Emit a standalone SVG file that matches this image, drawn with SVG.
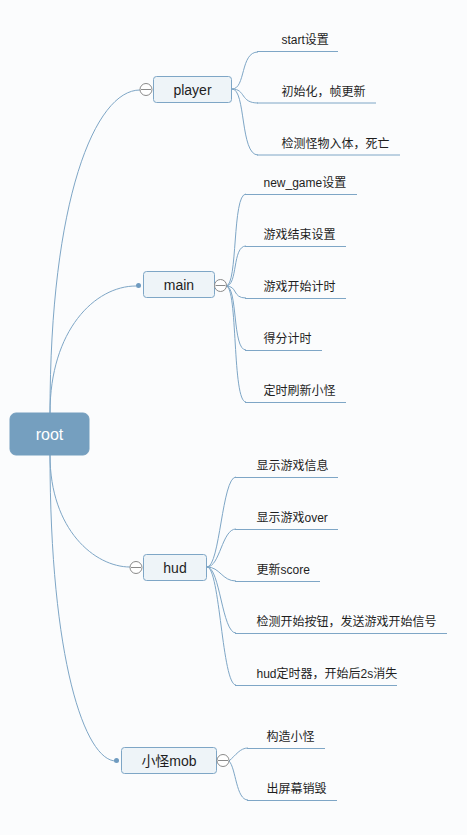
<svg xmlns="http://www.w3.org/2000/svg" width="467" height="835" viewBox="0 0 467 835">
<style>
.bg{fill:#fbfcfd}
.node rect{fill:#eef4f8;stroke:#7ea6c6;stroke-width:1}
.node text{font-family:"Liberation Sans","Noto Sans CJK SC",sans-serif;font-size:14px;fill:#1e1e1e;text-anchor:middle}
.leaf text{font-family:"Liberation Sans","Noto Sans CJK SC",sans-serif;font-size:12px;fill:#1e1e1e}
.leaf line{stroke:#7ea6c6;stroke-width:1}
.conn path{fill:none;stroke:#7ea6c6;stroke-width:1}
.col circle{fill:#ffffff;stroke:#8a8a8a;stroke-width:1}
.col line{stroke:#8a8a8a;stroke-width:1}
.dot{fill:#6f9bc0}
</style>
<rect class="bg" x="0" y="0" width="467" height="835"/>
<g id="connectors" class="conn">
<path d="M50,413 C50,200 95,90 140,90"/>
<path d="M50,413 C50,330 95,286 136,286"/>
<path d="M50,455 C50,530 95,567 130,567"/>
<path d="M50,455 C50,660 85,761 116,761"/>
<path d="M232,89 C246,89 240,52 258,52"/>
<path d="M232,89 C246,89 240,103 258,103"/>
<path d="M232,89 C246,89 240,155 258,155"/>
<path d="M226,286 C238,286 232,194 246,194"/>
<path d="M226,286 C238,286 232,246 246,246"/>
<path d="M226,286 C238,286 232,298 246,298"/>
<path d="M226,286 C238,286 232,350 246,350"/>
<path d="M226,286 C238,286 232,402 246,402"/>
<path d="M207,567 C220,567 222,477 236,477"/>
<path d="M207,567 C220,567 222,529 236,529"/>
<path d="M207,567 C220,567 222,581 236,581"/>
<path d="M207,567 C220,567 222,633 236,633"/>
<path d="M207,567 C220,567 222,685 236,685"/>
<path d="M229,761 C236,755 240,748 248,748"/>
<path d="M229,761 C236,768 236,800 248,800"/>
</g>
<g id="root" class="node">
<rect x="10" y="413" width="79" height="42" rx="6" ry="6" style="fill:#759fbf;stroke:#759fbf"/>
<text x="49.5" y="440" style="fill:#ffffff;font-size:16px">root</text>
</g>
<g id="player" class="node">
<rect x="153.5" y="76.5" width="78" height="26" rx="3" ry="3"/>
<text x="192.5" y="94.5">player</text>
<g class="col"><circle cx="146" cy="89.5" r="6"/><line x1="141" y1="89.5" x2="151" y2="89.5"/></g>
</g>
<g id="main" class="node">
<rect x="143.5" y="271.5" width="71" height="26" rx="3" ry="3"/>
<text x="179" y="290">main</text>
<circle class="dot" cx="138.5" cy="285.5" r="2.5"/>
<g class="col"><circle cx="220.5" cy="285.5" r="6"/><line x1="215.5" y1="285.5" x2="225.5" y2="285.5"/></g>
</g>
<g id="hud" class="node">
<rect x="143.5" y="554.5" width="63" height="26" rx="3" ry="3"/>
<text x="175" y="573">hud</text>
<g class="col"><circle cx="136" cy="567.5" r="6"/><line x1="131" y1="567.5" x2="141" y2="567.5"/></g>
</g>
<g id="mob" class="node">
<rect x="121.5" y="747.5" width="95" height="26" rx="3" ry="3"/>
<text x="169" y="766">小怪mob</text>
<circle class="dot" cx="116.5" cy="760.5" r="2.5"/>
<g class="col"><circle cx="223" cy="760.5" r="6"/><line x1="218" y1="760.5" x2="228" y2="760.5"/></g>
</g>
<g id="p1" class="leaf"><text x="281.5" y="44">start设置</text><line x1="257" y1="51.5" x2="338" y2="51.5"/></g>
<g id="p2" class="leaf"><text x="281.5" y="96">初始化，帧更新</text><line x1="257" y1="103" x2="376" y2="103"/></g>
<g id="p3" class="leaf"><text x="281.5" y="148">检测怪物入体，死亡</text><line x1="257" y1="155" x2="400" y2="155"/></g>
<g id="m1" class="leaf"><text x="263.5" y="187">new_game设置</text><line x1="245" y1="194.5" x2="357" y2="194.5"/></g>
<g id="m2" class="leaf"><text x="263.5" y="239">游戏结束设置</text><line x1="245" y1="246.5" x2="346" y2="246.5"/></g>
<g id="m3" class="leaf"><text x="263.5" y="291">游戏开始计时</text><line x1="245" y1="298.5" x2="346" y2="298.5"/></g>
<g id="m4" class="leaf"><text x="263.5" y="343">得分计时</text><line x1="245" y1="350.5" x2="322" y2="350.5"/></g>
<g id="m5" class="leaf"><text x="263.5" y="395">定时刷新小怪</text><line x1="245" y1="402.5" x2="346" y2="402.5"/></g>
<g id="h1" class="leaf"><text x="256.5" y="470">显示游戏信息</text><line x1="235" y1="477.5" x2="338" y2="477.5"/></g>
<g id="h2" class="leaf"><text x="256.5" y="522">显示游戏over</text><line x1="235" y1="529.5" x2="338" y2="529.5"/></g>
<g id="h3" class="leaf"><text x="256.5" y="574">更新score</text><line x1="235" y1="581.5" x2="320" y2="581.5"/></g>
<g id="h4" class="leaf"><text x="256.5" y="626">检测开始按钮，发送游戏开始信号</text><line x1="235" y1="633.5" x2="447" y2="633.5"/></g>
<g id="h5" class="leaf"><text x="256.5" y="678">hud定时器，开始后2s消失</text><line x1="235" y1="685.5" x2="397" y2="685.5"/></g>
<g id="b1" class="leaf"><text x="266.5" y="741">构造小怪</text><line x1="247" y1="748.5" x2="325" y2="748.5"/></g>
<g id="b2" class="leaf"><text x="266.5" y="793">出屏幕销毁</text><line x1="247" y1="800.5" x2="337" y2="800.5"/></g>
</svg>
